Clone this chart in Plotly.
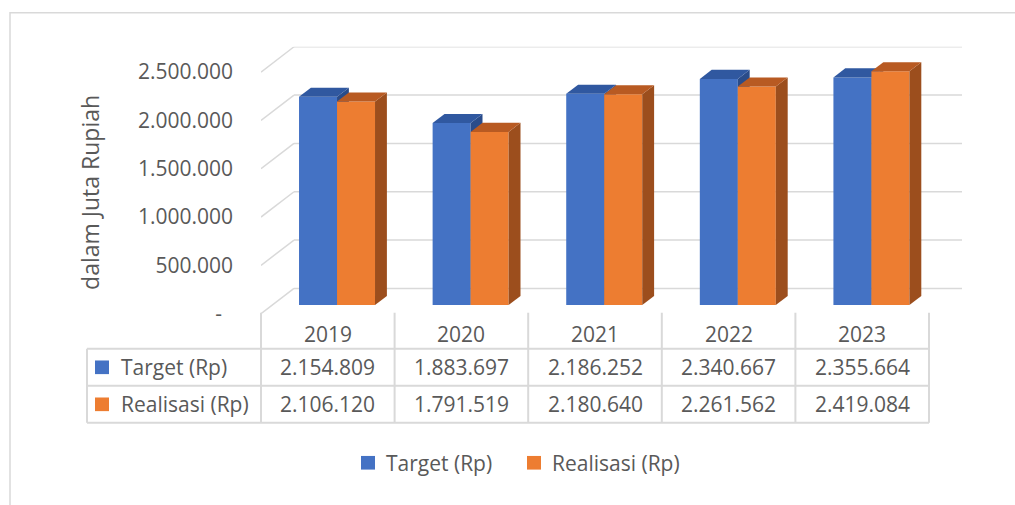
import plotly.graph_objects as go

# Data
years = ["2019", "2020", "2021", "2022", "2023"]
target = [2154809, 1883697, 2186252, 2340667, 2355664]
realisasi = [2106120, 1791519, 2180640, 2261562, 2419084]
series_names = ["Target (Rp)", "Realisasi (Rp)"]
y_ticks = [0, 500000, 1000000, 1500000, 2000000, 2500000]
y_ticktext = ["-\u00a0\u00a0", "500.000", "1.000.000", "1.500.000", "2.000.000", "2.500.000"]

W, H = 1015, 505
GREY = "#595959"
LINE = "#d9d9d9"
FONT = "Open Sans"


def px(x):
    return x / W


def py(y):
    return 1 - y / H


def fmt(v):
    return f"{v:,}".replace(",", ".")


# 3D geometry: front plane vs back wall offset, in axis units
CW = 133.6          # px per category
PPM = 99.2 / 1e6    # px per value unit
DXU = 33 / CW       # full depth shift in x (category units)
DYU = 26 / PPM      # full depth shift in y (value units)
D_FRONT = 0.34      # depth of bar front face
D_THICK = 0.36      # bar depth
BAR_W = 38 / CW
OFFSETS = [-40 / CW, -2 / CW]

colors = {
    "front": ["#4472C4", "#ED7D31"],
    "top": ["#3058A0", "#B85A22"],
    "side": ["#2A4C8A", "#9C4E1D"],
}

fig = go.Figure()

sx, sy = D_FRONT * DXU, D_FRONT * DYU
ddx, ddy = D_THICK * DXU, D_THICK * DYU

for s, (name, vals) in enumerate(zip(series_names, [target, realisasi])):
    xa, ya = ("x", "y") if s == 0 else ("x2", "y2")
    # side and top faces
    for i, v in enumerate(vals):
        x0 = i + sx + OFFSETS[s]
        x1 = x0 + BAR_W
        top = v + sy
        fig.add_trace(go.Scatter(
            x=[x1, x1, x1 + ddx, x1 + ddx, x1],
            y=[sy, top, top + ddy, sy + ddy, sy],
            fill="toself", fillcolor=colors["side"][s], mode="lines",
            line=dict(width=0), showlegend=False, hoverinfo="skip",
            xaxis=xa, yaxis=ya,
        ))
        fig.add_trace(go.Scatter(
            x=[x0, x1, x1 + ddx, x0 + ddx, x0],
            y=[top, top, top + ddy, top + ddy, top],
            fill="toself", fillcolor=colors["top"][s], mode="lines",
            line=dict(width=0), showlegend=False, hoverinfo="skip",
            xaxis=xa, yaxis=ya,
        ))
    # front faces
    fig.add_trace(go.Bar(
        x=[i + sx for i in range(len(years))],
        y=vals,
        base=sy,
        width=BAR_W,
        offset=OFFSETS[s],
        name=name,
        showlegend=False,
        marker=dict(color=colors["front"][s], line=dict(width=0)),
        xaxis=xa, yaxis=ya,
    ))

# back wall gridlines + left diagonals
for v in y_ticks:
    fig.add_shape(type="line", xref="x", yref="y", layer="below",
                  x0=-0.5 + DXU, x1=4.5 + DXU, y0=v + DYU, y1=v + DYU,
                  line=dict(color=LINE, width=1.5))
    fig.add_shape(type="line", xref="x", yref="y", layer="below",
                  x0=-0.5, x1=-0.5 + DXU, y0=v, y1=v + DYU,
                  line=dict(color=LINE, width=1.5))

# data table lines (pixel positions)
tbl_x = [261 + CW * k for k in range(6)]
tbl_left, tbl_right = 87, tbl_x[-1]
rows_y = [321, 358, 396, 434]
for ry in rows_y[1:]:
    fig.add_shape(type="line", xref="paper", yref="paper",
                  x0=px(tbl_left), x1=px(tbl_right), y0=py(ry), y1=py(ry),
                  line=dict(color=LINE, width=2))
fig.add_shape(type="line", xref="paper", yref="paper",
              x0=px(tbl_left), x1=px(tbl_left), y0=py(rows_y[1]), y1=py(rows_y[3]),
              line=dict(color=LINE, width=2))
for cx in tbl_x:
    fig.add_shape(type="line", xref="paper", yref="paper",
                  x0=px(cx), x1=px(cx), y0=py(rows_y[0]), y1=py(rows_y[3]),
                  line=dict(color=LINE, width=2))

# table text
txt_font = dict(family=FONT, size=21, color=GREY)
for i, yr in enumerate(years):
    for ty, txt in [(343, yr), (377, fmt(target[i])), (415, fmt(realisasi[i]))]:
        fig.add_annotation(x=i, y=py(ty), xref="x", yref="paper", text=txt,
                           showarrow=False, xanchor="center", yanchor="middle",
                           font=txt_font)
for s, (name, ry) in enumerate(zip(series_names, [377, 415])):
    fig.add_shape(type="rect", xref="paper", yref="paper",
                  x0=px(95), x1=px(109), y0=py(ry - 7), y1=py(ry + 7),
                  fillcolor=colors["front"][s], line=dict(width=0))
    fig.add_annotation(x=px(119), y=py(ry), xref="paper", yref="paper", text=name,
                       showarrow=False, xanchor="left", yanchor="middle", font=txt_font)

# bottom legend
for s, (name, lx) in enumerate(zip(series_names, [361, 527])):
    fig.add_shape(type="rect", xref="paper", yref="paper",
                  x0=px(lx), x1=px(lx + 14), y0=py(468), y1=py(482),
                  fillcolor=colors["front"][s], line=dict(width=0))
    fig.add_annotation(x=px(lx + 23), y=py(475), xref="paper", yref="paper", text=name,
                       showarrow=False, xanchor="left", yanchor="middle", font=txt_font)

# y-axis title
fig.add_annotation(x=px(90), y=py(198), xref="paper", yref="paper",
                   text="dalam Juta Rupiah", textangle=-90, showarrow=False,
                   xanchor="center", yanchor="middle",
                   font=dict(family=FONT, size=23, color=GREY))

# chart border
fig.add_shape(type="rect", xref="paper", yref="paper",
              x0=px(10), x1=px(1030), y0=py(13), y1=py(520),
              line=dict(color=LINE, width=1.5))

x_range = [-0.5, 4.5 + DXU]
y_range = [0, 2500000 + DYU]
x_dom = [px(261), px(261 + CW * (5 + DXU))]
y_dom = [py(322), py(322 - PPM * y_range[1])]

fig.update_layout(
    width=W, height=H, autosize=False,
    margin=dict(l=0, r=0, t=0, b=0),
    paper_bgcolor="white", plot_bgcolor="rgba(0,0,0,0)",
    barmode="overlay",
    showlegend=False,
    font=dict(family=FONT, color=GREY),
    xaxis=dict(range=x_range, domain=x_dom, visible=False, fixedrange=True),
    yaxis=dict(range=y_range, domain=y_dom, tickvals=y_ticks, ticktext=y_ticktext,
               showgrid=False, zeroline=False, showline=False,
               ticklabelstandoff=27, tickfont=dict(family=FONT, size=21, color=GREY)),
    xaxis2=dict(range=x_range, overlaying="x", visible=False),
    yaxis2=dict(range=y_range, overlaying="y", visible=False),
)

fig.write_html("out.html", config={"displayModeBar": False},
               post_script="document.body.style.margin='0';")
